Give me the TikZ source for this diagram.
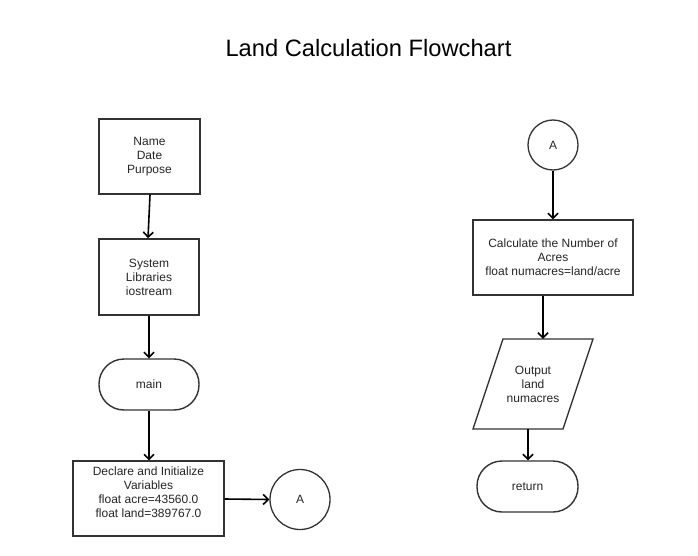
\documentclass[tikz,border=0pt]{standalone}
\usepackage{fontspec}
\setmainfont{Liberation Sans}
\usetikzlibrary{arrows.meta,calc}
\definecolor{edge}{HTML}{333333}
\begin{document}
\begin{tikzpicture}[x=1pt,y=-1pt,
  base/.style={draw=edge,inner sep=0pt,align=center,font=\fontsize{12}{14}\selectfont,text=black!85},
  procbox/.style={base,rectangle,line width=1.6pt},
  thinbox/.style={base,rectangle,line width=1.1pt},
  term/.style={base,rectangle,rounded corners=25pt,line width=1.4pt},
  conn/.style={base,circle,line width=1.3pt},
  flow/.style={line width=1.6pt,-{Straight Barb[length=5pt,width=10pt,line width=1.6pt]}}
]
\useasboundingbox[fill=white] (0,0) rectangle (698,556);
\node[font=\fontsize{23.7}{28}\selectfont] (title) at (368.5,48) {Land Calculation Flowchart};

\node[procbox,minimum width=101pt,minimum height=75pt] (info) at (149.5,156.5) {Name\\Date\\Purpose};
\node[procbox,minimum width=100pt,minimum height=76pt] (sys) at (149,277) {System\\Libraries\\iostream};
\node[term,minimum width=100pt,minimum height=51pt] (main) at (149,384.5) {main};
\node[thinbox,minimum width=151pt,minimum height=75pt] (decl) at (148.5,498.5) {Declare and Initialize\\Variables\\float acre=43560.0\\float land=389767.0\\[-2pt]\mbox{}};
\node[conn,minimum size=60pt] (A1) at (300,499.5) {A};

\node[conn,minimum size=50pt] (A2) at (553,145) {A};
\node[thinbox,line width=1.3pt,minimum width=160pt,minimum height=75pt] (calc) at (553,257.5) {Calculate the Number of\\Acres\\float numacres=land/acre};
\coordinate (p1) at (503,339);
\coordinate (p2) at (593,339);
\coordinate (p3) at (563,429);
\coordinate (p4) at (473,429);
\draw[draw=edge,line width=1.3pt,line join=miter] (p1) -- (p2) -- (p3) -- (p4) -- cycle;
\node[base,draw=none,minimum width=90pt,minimum height=90pt] (out) at (533,384) {Output\\land\\numacres};
\node[term,minimum width=101pt,minimum height=51pt] (ret) at (527.5,486.5) {return};

\draw[flow] ([xshift=0.5pt]info.south) -- ([xshift=-1pt]sys.north);
\draw[flow] (sys.south) -- (main.north);
\draw[flow] (main.south) -- ([xshift=0.5pt]decl.north);
\draw[flow] ([yshift=-0.5pt]decl.east) -- (A1.west);
\draw[flow] (A2.south) -- (calc.north);
\draw[flow] ([xshift=-10pt]calc.south) -- ([xshift=10pt]out.north);
\draw[flow] ([xshift=-5pt]out.south) -- ([xshift=0.5pt]ret.north);
\end{tikzpicture}
\end{document}
